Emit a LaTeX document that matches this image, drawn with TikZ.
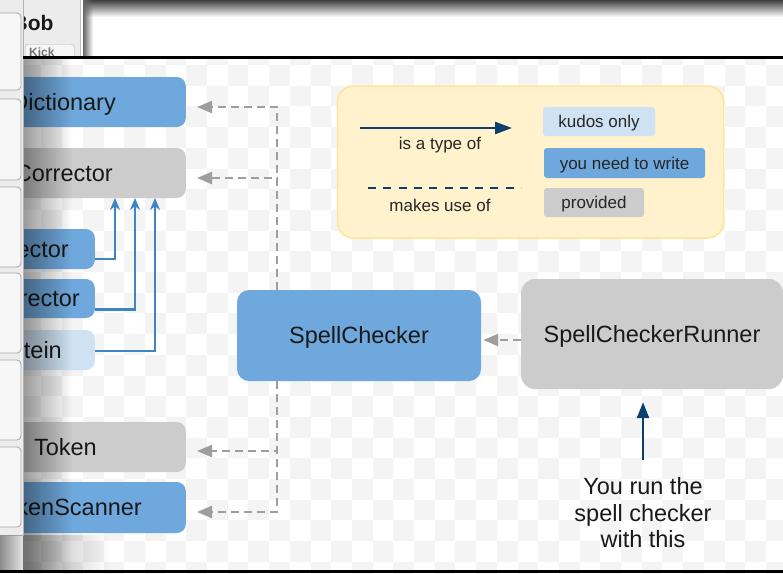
\documentclass[tikz,border=0pt]{standalone}
\usepackage{fontspec}
\setmainfont{Liberation Sans}
\usetikzlibrary{positioning, arrows.meta, fadings}
\definecolor{needblue}{HTML}{6FA8DC}
\definecolor{provgray}{HTML}{CCCCCC}
\definecolor{kudoblue}{HTML}{CFE2F3}
\definecolor{keyfill}{HTML}{FFF2CC}
\definecolor{keyline}{HTML}{FFE599}
\definecolor{navy}{HTML}{0B3F6E}
\definecolor{subblue}{HTML}{3D85C6}
\definecolor{usegray}{HTML}{9E9E9E}
\definecolor{chk}{HTML}{F4F4F4}
\definecolor{panel}{HTML}{ECECEC}
\tikzset{
  cls/.style={rectangle, rounded corners=9pt, minimum height=50pt, inner ysep=0pt,
    text height=16.8pt, text depth=0pt, font=\fontsize{23.5}{27}\selectfont, text=black!90},
  need/.style={cls, fill=needblue},
  given/.style={cls, fill=provgray},
  kudos/.style={cls, fill=kudoblue},
  swatch/.style={rectangle, rounded corners=3pt, inner sep=0pt, text height=12pt, text depth=0pt,
    font=\fontsize{17}{20}\selectfont, text=black!85},
  keytxt/.style={font=\fontsize{17}{20}\selectfont, text=black!85, inner sep=0pt},
  uses/.style={draw=usegray, line width=2.3pt, dash pattern=on 8pt off 5pt,
    -{Triangle[length=15pt, width=12pt]}, shorten >=11pt},
  subtype/.style={draw=subblue, line width=2.2pt, -{Stealth[length=12pt, width=10pt]}},
  typeof/.style={draw=navy, line width=2.4pt, -{Triangle[length=16pt, width=12pt]}},
}

\begin{document}
\begin{tikzpicture}[x=1pt, y=-1pt]
\useasboundingbox (0,0) rectangle (783,573);

% ── Ventana de arriba ───────────────────────────────────────
\fill[white] (83,0) rectangle (783,57);
\fill[black!75, path fading=south] (83,0) rectangle (783,17);
\fill[black!60, path fading=east] (83,0) rectangle (93,57);
\fill[panel] (23,0) rectangle (80,57);
\draw[black!25, line width=1pt] (80,0) -- (80,57);
\node[font=\bfseries\fontsize{21}{24}\selectfont, anchor=east, text=black!90] (bob) at (57,23) {Bob};
\node[draw=black!30, fill=black!3, rounded corners=3pt, anchor=north west, inner xsep=4pt, inner ysep=3pt,
  text width=41pt, text height=9pt, text depth=6pt, font=\bfseries\fontsize{12}{13}\selectfont, text=black!55] (kick) at (25,44) {Kick};

% ── Diagrama ────────────────────────────────────────────────
\begin{scope}
\clip (23,58) rectangle (783,573);
\fill[white] (23,58) rectangle (783,573);
\foreach \i in {1,...,38} {
  \foreach \j in {0,...,27} {
    \pgfmathtruncatemacro\odd{mod(\i+\j,2)}
    \ifnum\odd=0 \fill[chk] ({20.7*\i},{2.9+20.7*\j}) rectangle ++(20.7,20.7); \fi
  }
}

% leyenda
\node[rectangle, fill=keyfill, draw=keyline, line width=1.5pt, rounded corners=16pt,
  minimum width=386pt, minimum height=152pt] (key) at (530.5,162) {};
\coordinate (isA) at (360,128);
\coordinate (isB) at (512,128);
\coordinate (useA) at (368,188);
\coordinate (useB) at (521,188);
\draw[typeof, -{Triangle[length=17pt, width=12pt]}] (isA) -- (isB);
\draw[navy, line width=2.5pt, dash pattern=on 8pt off 7.3pt] (useA) -- (useB);
\node[keytxt] (isLbl) at (440,145) {is a type of};
\node[keytxt] (useLbl) at (440,205) {makes use of};
\node[swatch, fill=kudoblue, minimum width=112pt, minimum height=29pt] (kudoKey) at (599,121.5) {kudos only};
\node[swatch, fill=needblue, minimum width=161pt, minimum height=30pt] (needKey) at (624.5,163) {you need to write};
\node[swatch, fill=provgray, minimum width=100pt, minimum height=29pt] (provKey) at (594,202.5) {provided};

% clases
\node[need, anchor=east, inner xsep=70pt] (dict) at (186,102) {Dictionary};
\node[given, anchor=east, inner xsep=73pt] (corr) at (186,173) {Corrector};
\node[need, anchor=east, inner xsep=26pt, minimum height=40pt] (ector) at (95,249) {ector};
\node[need, anchor=east, inner xsep=15pt, minimum height=39pt] (rector) at (95,298.5) {rector};
\node[kudos, anchor=east, inner xsep=33pt, minimum height=40pt] (tein) at (95,350) {tein};
\node[given, anchor=east, inner xsep=89pt] (token) at (186,447) {Token};
\node[need, anchor=east, inner xsep=44pt, minimum height=51pt] (scan) at (186,507.5) {kenScanner};
\node[need, minimum width=244pt, minimum height=91pt, rounded corners=12pt] (spell) at (359,335.5) {SpellChecker};
\node[given, minimum width=262pt, minimum height=110pt, rounded corners=14pt] (runner) at (652,334) {SpellCheckerRunner};
\node[font=\fontsize{23.5}{26.5}\selectfont, align=center, text=black!90] (hint) at (643,513)
  {You run the\\spell checker\\with this};

% herencia -> Corrector
\coordinate (up1) at (115,198);
\coordinate (up2) at (135,198);
\coordinate (up3) at (155,198);
\draw[subtype] ([yshift=-10pt]ector.east) -| (up1);
\draw[subtype] ([yshift=-11pt]rector.east) -| (up2);
\draw[subtype] ([yshift=-1pt]tein.east) -| (up3);

% usa (SpellChecker)
\coordinate (bus) at (277,0);
\draw[uses] (spell.north -| bus) |- ([yshift=-5pt]dict.east);
\draw[uses] (spell.north -| bus) |- ([yshift=-5pt]corr.east);
\draw[uses] (spell.south -| bus) |- ([yshift=-4pt]token.east);
\draw[uses] (spell.south -| bus) |- ([yshift=-4.5pt]scan.east);
\draw[uses, shorten >=2pt] ([yshift=-6pt]runner.west) -- ([yshift=-6pt]runner.west -| spell.east);
\draw[typeof, shorten <=14pt, shorten >=13pt] (hint.north) -- (hint.north |- runner.south);

% sombra
\fill[black, path fading=east, fill opacity=0.4] (23,58) rectangle (72,573);
\fill[black, path fading=east, fill opacity=0.3] (23,535) rectangle (110,573);
\end{scope}

% ── Panel izquierdo ─────────────────────────────────────────
\fill[panel] (0,0) rectangle (23,535);
\draw[black!30, line width=0.8pt] (23,0) -- (23,535) -- (0,535);
\foreach \top/\bot in {13/90, 99/180, 187/267, 273/353, 360/440, 447/527} {
  \draw[draw=black!35, fill=black!3, rounded corners=4pt, line width=0.8pt] (-10,\top) rectangle (21,\bot);
}
\fill[black!45, path fading=east] (0,535) rectangle (30,573);

% bordes
\draw[black, line width=2.5pt] (23,57.5) -- (783,57.5);
\draw[black, line width=3pt] (0,571.5) -- (783,571.5);
\end{tikzpicture}
\end{document}
